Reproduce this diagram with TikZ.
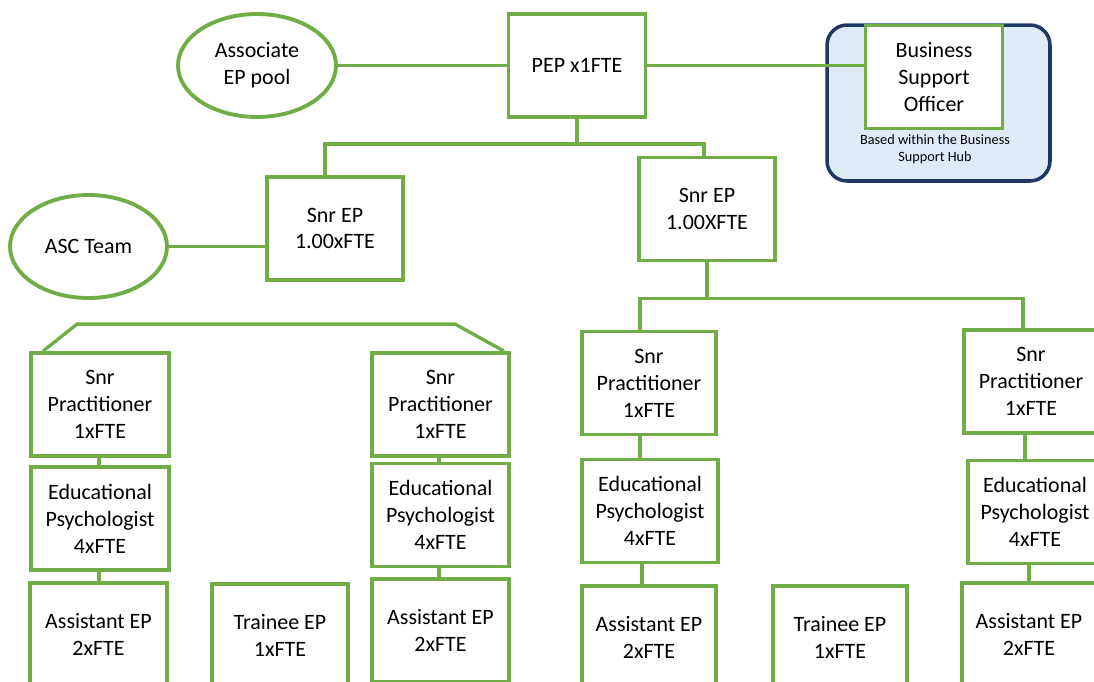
\documentclass[tikz,border=0pt]{standalone}
\usepackage{fontspec}
\setmainfont{Carlito}
\usetikzlibrary{shapes.geometric}
\definecolor{epgreen}{HTML}{70AD47}
\definecolor{hubnavy}{HTML}{1F3864}
\definecolor{hubfill}{HTML}{DEEBF7}

\begin{document}
\begin{tikzpicture}[x=0.02cm, y=-0.02cm,
    role/.style={draw=epgreen, line width=2.2pt, fill=white, minimum width=2.74cm,
        minimum height=2.06cm, inner sep=0pt, align=center,
        font=\fontsize{12.5}{15.3}\selectfont},
    pool/.style={role, ellipse, minimum width=3.16cm},
    link/.style={draw=epgreen, line width=1.9pt}]
    \useasboundingbox (0,0) rectangle (1094,681);
    \clip (0,0) rectangle (1094,681);

    % Business support hub
    \node[draw=hubnavy, fill=hubfill, line width=2pt, rounded corners=0.4cm,
        minimum width=4.46cm, minimum height=3.12cm] (hub) at (938.5,103) {};
    \node[font=\fontsize{8.1}{10}\selectfont, align=center] (hubnote) at (935,149)
        {Based within the Business\\Support Hub};

    % Top level
    \node[role] (pep) at (577,65.5) {PEP x1FTE};
    \node[pool] (assoc) at (257,65.5) {Associate\\EP pool};
    \node[role] (bso) at (934,77) {Business\\Support\\Officer};

    % Senior EPs
    \node[role, minimum width=2.72cm] (snrL) at (335,228.5) {Snr EP\\1.00xFTE};
    \node[role, minimum width=2.72cm] (snrR) at (707,209) {Snr EP\\1.00XFTE};
    \node[pool, minimum width=3.14cm] (asc) at (88.5,246.5) {ASC Team};

    % Left team
    \node[role, minimum width=2.76cm] (spL1) at (100,404.5) {Snr\\Practitioner\\1xFTE};
    \node[role] (spL2) at (440.5,404.5) {Snr\\Practitioner\\1xFTE};
    \node[role, minimum width=2.76cm] (epL1) at (100,518.5) {Educational\\Psychologist\\4xFTE};
    \node[role] (epL2) at (440.5,515) {Educational\\Psychologist\\4xFTE};
    \node[role] (aepL1) at (98.5,634.5) {Assistant EP\\2xFTE};
    \node[role, minimum width=2.72cm] (teL) at (280,635.5) {Trainee EP\\1xFTE};
    \node[role] (aepL2) at (440.5,630.5) {Assistant EP\\2xFTE};

    % Right team
    \node[role, minimum width=2.68cm] (spR1) at (649,383) {Snr\\Practitioner\\1xFTE};
    \node[role, minimum width=2.68cm] (spR2) at (1031,381.5) {Snr\\Practitioner\\1xFTE};
    \node[role, minimum width=2.72cm] (epR1) at (650,511) {Educational\\Psychologist\\4xFTE};
    \node[role, minimum width=2.68cm] (epR2) at (1035,512) {Educational\\Psychologist\\4xFTE};
    \node[role, minimum width=2.68cm] (aepR1) at (649,637.5) {Assistant EP\\2xFTE};
    \node[role, minimum width=2.68cm] (teR) at (840,637.5) {Trainee EP\\1xFTE};
    \node[role, minimum width=2.68cm] (aepR2) at (1029,634.5) {Assistant EP\\2xFTE};

    % Links from the top
    \draw[link] (assoc.east) -- (pep.west);
    \draw[link] (pep.east) -- (pep.east -| bso.west);
    \draw[link] (asc.east) -- (asc.east -| snrL.west);
    \coordinate (pepbus) at ([yshift=-0.5cm]pep.south);
    \draw[link] (pep.south) -- (pepbus);
    \draw[link] ([xshift=-0.2cm]snrL.north) |- (pepbus) -| ([xshift=-0.06cm]snrR.north);

    % Links of the left team
    \draw[link] ([xshift=0.28cm]spL1.north west) -- ++(34,-27) -- ++(378,0)
        -- ([xshift=-0.14cm]spL2.north east);
    \draw[link] ([xshift=-0.02cm]spL1.south) -- ([xshift=-0.02cm]spL1.south |- epL1.north);
    \draw[link] ([xshift=-0.02cm]epL1.south) -- ([xshift=-0.02cm]epL1.south |- aepL1.north);
    \draw[link] ([xshift=-0.03cm]spL2.south) -- ([xshift=-0.03cm]spL2.south |- epL2.north);
    \draw[link] ([xshift=-0.03cm]epL2.south) -- ([xshift=-0.03cm]epL2.south |- aepL2.north);

    % Links of the right team
    \coordinate (rbus) at ([yshift=-0.72cm]snrR.south);
    \draw[link] (snrR.south) -- (rbus);
    \draw[link] ([xshift=-0.18cm]spR1.north) |- (rbus) -| ([xshift=-0.16cm]spR2.north);
    \draw[link] ([xshift=-0.18cm]spR1.south) -- ([xshift=-0.18cm]spR1.south |- epR1.north);
    \draw[link] ([xshift=-0.16cm]epR1.south) -- ([xshift=-0.16cm]epR1.south |- aepR1.north);
    \draw[link] ([xshift=-0.12cm]spR2.south) -- ([xshift=-0.12cm]spR2.south |- epR2.north);
    \draw[link] ([xshift=-0.12cm]epR2.south) -- ([xshift=-0.12cm]epR2.south |- aepR2.north);
\end{tikzpicture}
\end{document}
